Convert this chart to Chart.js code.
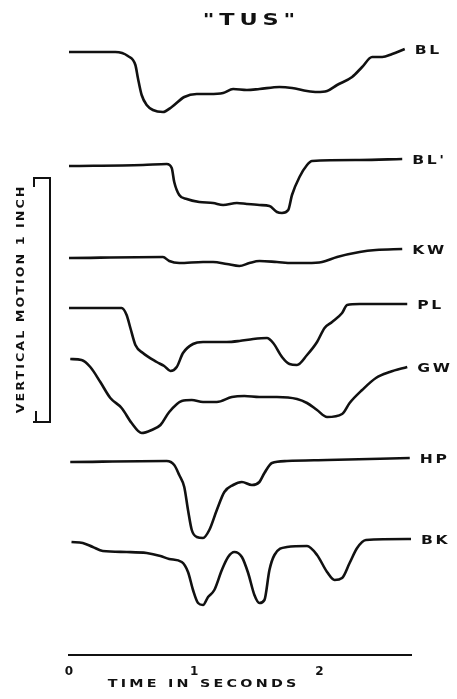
<!DOCTYPE html>
<html><head><meta charset="utf-8">
<script src="https://cdn.jsdelivr.net/npm/chart.js@4.4.1/dist/chart.umd.min.js"></script>
<style>html,body{margin:0;padding:0;background:#fff}canvas{display:block}</style>
</head><body>
<canvas id="c" width="457" height="699"></canvas>
<script>
// Time in seconds; vertical position in chart units (244 units = 1 inch of vertical motion)
const chartTitle = '"TUS"';
const traceNames = ["BL", "BL'", "KW", "PL", "GW", "HP", "BK"];
const timeTicks = [0, 1, 2];

const blTime   = [0, 0.37, 0.47, 0.53, 0.55, 0.58, 0.62, 0.67, 0.75, 0.82, 0.92, 1.02, 1.12, 1.23, 1.31, 1.42, 1.52, 1.68, 1.78, 1.90, 1.98, 2.06, 2.14, 2.26, 2.34, 2.42, 2.50, 2.58, 2.68];
const blValues = [603, 603, 599, 590, 577, 560, 550, 545, 543, 548, 558, 561, 561, 562, 566, 565, 566, 568, 567, 564, 563, 564, 570, 578, 588, 598, 598, 601, 606];

const blpTime   = [0, 0.59, 0.78, 0.82, 0.84, 0.88, 0.94, 1.04, 1.15, 1.23, 1.34, 1.42, 1.52, 1.60, 1.66, 1.70, 1.75, 1.78, 1.84, 1.90, 1.94, 2.32, 2.66];
const blpValues = [489, 490, 491, 487, 473, 460, 456, 453, 452, 450, 452, 451, 450, 449, 443, 442, 445, 460, 478, 490, 494, 495, 496];

const kwTime   = [0, 0.75, 0.80, 0.88, 1.07, 1.15, 1.26, 1.36, 1.44, 1.52, 1.66, 1.78, 1.90, 2.02, 2.14, 2.32, 2.45, 2.66];
const kwValues = [397, 398, 394, 392, 393, 393, 391, 389, 392, 394, 393, 392, 392, 393, 398, 403, 405, 406];

const plTime   = [0, 0.42, 0.46, 0.49, 0.53, 0.59, 0.70, 0.76, 0.81, 0.86, 0.91, 0.99, 1.07, 1.18, 1.26, 1.36, 1.47, 1.58, 1.63, 1.70, 1.76, 1.82, 1.90, 1.98, 2.04, 2.10, 2.18, 2.22, 2.32, 2.70];
const plValues = [347, 347, 340, 327, 310, 302, 293, 289, 284, 288, 302, 311, 313, 313, 313, 314, 316, 317, 312, 298, 291, 290, 300, 313, 327, 333, 342, 350, 351, 351];

const gwTime   = [0.01, 0.10, 0.17, 0.25, 0.33, 0.42, 0.50, 0.58, 0.66, 0.73, 0.80, 0.90, 0.98, 1.07, 1.18, 1.30, 1.40, 1.52, 1.66, 1.82, 1.90, 1.98, 2.06, 2.18, 2.24, 2.34, 2.45, 2.56, 2.70];
const gwValues = [296, 295, 288, 273, 257, 247, 232, 222, 225, 230, 243, 254, 255, 253, 253, 258, 259, 258, 258, 256, 252, 245, 238, 241, 252, 265, 277, 283, 288];

const hpTime   = [0.01, 0.78, 0.84, 0.88, 0.92, 0.95, 0.98, 1.02, 1.07, 1.12, 1.18, 1.24, 1.31, 1.38, 1.46, 1.52, 1.56, 1.62, 1.74, 2.06, 2.72];
const hpValues = [193, 194, 190, 180, 168, 145, 125, 118, 117, 125, 145, 163, 170, 173, 170, 173, 182, 192, 194, 195, 197];

const bkTime   = [0.02, 0.11, 0.19, 0.27, 0.46, 0.62, 0.73, 0.80, 0.90, 0.95, 0.99, 1.03, 1.07, 1.11, 1.16, 1.22, 1.27, 1.32, 1.38, 1.43, 1.48, 1.52, 1.56, 1.60, 1.64, 1.74, 1.90, 1.98, 2.06, 2.12, 2.18, 2.24, 2.30, 2.37, 2.73];
const bkValues = [113, 112, 108, 104, 103, 102, 99, 96, 93, 83, 65, 52, 50, 58, 65, 85, 98, 103, 98, 82, 60, 52, 55, 85, 100, 108, 109, 100, 83, 75, 77, 92, 107, 115, 116];

const unitsPerInch = 244;      // scale bar: 1 inch of vertical motion
const scaleBarBase = 233;      // lower end of the 1-inch bar (chart units)

const traceTimes  = [blTime, blpTime, kwTime, plTime, gwTime, hpTime, bkTime];
const traceValues = [blValues, blpValues, kwValues, plValues, gwValues, hpValues, bkValues];

const INK = '#111';
const FONT = '"DejaVu Sans", "Liberation Sans", sans-serif';

const datasets = traceNames.map((name, i) => ({
  label: name,
  data: traceTimes[i].map((t, k) => ({ x: t, y: traceValues[i][k] })),
  borderColor: INK,
  borderWidth: 2.6,
  pointRadius: 0,
  fill: false,
  tension: 0.4,
  cubicInterpolationMode: 'monotone',
  clip: false
}));

// wide, lettered-style text: horizontal stretch + letter spacing
function wideText(ctx, text, x, y, spacing, stretch, align) {
  ctx.save();
  ctx.translate(x, y);
  ctx.scale(stretch, 1);
  ctx.letterSpacing = spacing + 'px';
  const w = ctx.measureText(text).width - spacing;
  ctx.textAlign = 'left';
  ctx.fillText(text, align === 'center' ? -w / 2 : 0, 0);
  ctx.restore();
}

const annotations = {
  id: 'annotations',
  afterDraw(chart) {
    const ctx = chart.ctx;
    const ys = chart.scales.y;
    ctx.save();
    ctx.fillStyle = INK;
    ctx.strokeStyle = INK;
    ctx.textBaseline = 'middle';

    // title
    ctx.font = 'bold 16px ' + FONT;
    wideText(ctx, chartTitle, 249, 21, 3.5, 1.4, 'center');

    // trace labels
    ctx.font = 'bold 12px ' + FONT;
    chart.data.datasets.forEach((ds, i) => {
      const meta = chart.getDatasetMeta(i);
      const p = meta.data[meta.data.length - 1];
      wideText(ctx, ds.label, p.x + 10, p.y + 2, 2, 1.3, 'left');
    });

    // x-axis title
    ctx.font = 'bold 11px ' + FONT;
    wideText(ctx, 'TIME IN SECONDS', 202, 684, 2.5, 1.3, 'center');

    // vertical scale bar
    const yTop = ys.getPixelForValue(scaleBarBase + unitsPerInch);
    const yBot = ys.getPixelForValue(scaleBarBase);
    ctx.lineWidth = 2;
    ctx.beginPath();
    ctx.moveTo(33, yTop); ctx.lineTo(50, yTop); ctx.lineTo(50, yBot); ctx.lineTo(33, yBot);
    ctx.moveTo(34, yTop); ctx.lineTo(34, yTop + 9);
    ctx.moveTo(36, yBot); ctx.lineTo(36, yBot - 11);
    ctx.stroke();
    ctx.save();
    ctx.translate(21, (yTop + yBot) / 2);
    ctx.rotate(-Math.PI / 2);
    ctx.font = 'bold 11px ' + FONT;
    wideText(ctx, 'VERTICAL MOTION 1 INCH', 0, 0, 1.8, 1.15, 'center');
    ctx.restore();

    ctx.restore();
  }
};

new Chart(document.getElementById('c'), {
  type: 'line',
  data: { datasets },
  options: {
    responsive: false,
    animation: false,
    devicePixelRatio: 1,
    layout: { padding: { left: 69, right: 46, top: 30, bottom: 0 } },
    plugins: { legend: { display: false }, tooltip: { enabled: false }, title: { display: false } },
    scales: {
      x: {
        type: 'linear',
        min: 0,
        max: 2.73,
        afterFit(scale) { scale.height = 44; },
        afterBuildTicks(scale) { scale.ticks = timeTicks.map(v => ({ value: v })); },
        border: { display: true, color: INK, width: 2 },
        grid: { display: false, drawTicks: false },
        ticks: {
          padding: 10,
          color: INK,
          font: { family: FONT, size: 12, weight: 'bold' },
          maxRotation: 0
        }
      },
      y: {
        type: 'linear',
        display: false,
        min: 0,
        max: 625
      }
    }
  },
  plugins: [annotations]
});
</script>
</body></html>
